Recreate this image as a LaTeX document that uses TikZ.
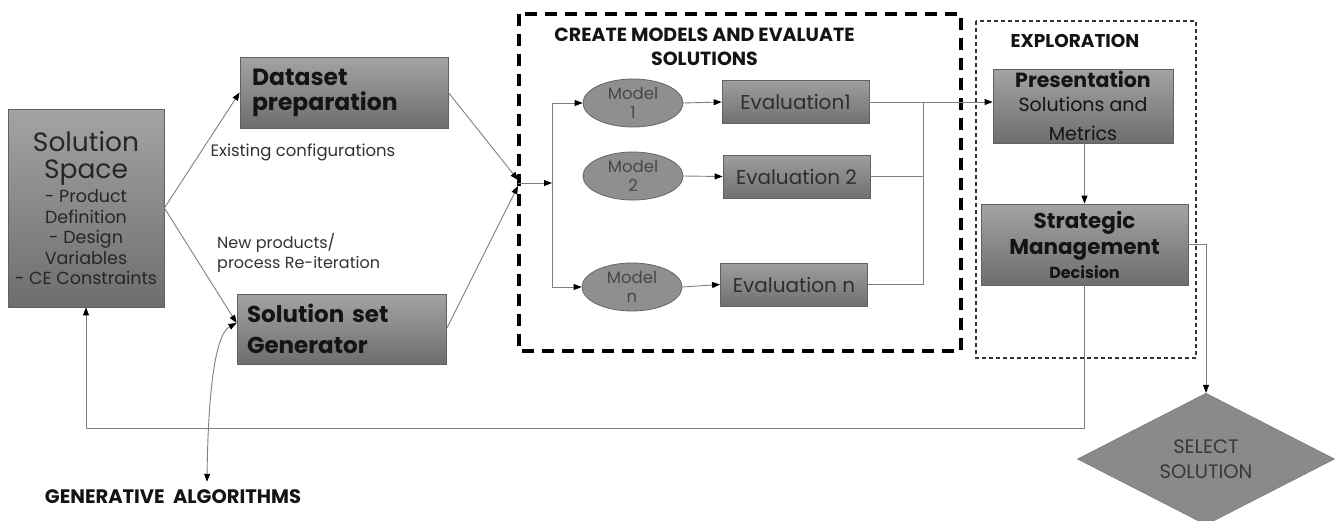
\documentclass[tikz,border=0pt]{standalone}
\usepackage{fontspec}
\setmainfont{Poppins}
\usetikzlibrary{arrows.meta,shapes.geometric,calc}
\newcommand\setfs[2]{\fontsize{#1}{#2}\selectfont}

\begin{document}
\begin{tikzpicture}[x=1pt,y=-1pt,
  gbox/.style={draw=black!62, line width=0.8pt, top color=black!36, bottom color=black!57,
               inner sep=0pt, text=black!92},
  model/.style={ellipse, draw=black!60, line width=0.8pt, fill=black!44, inner sep=0pt,
                minimum width=100, minimum height=48, text=black!72, align=center,
                font=\setfs{16.5}{19}},
  evalbox/.style={draw=black!62, line width=0.8pt, top color=black!38, bottom color=black!56,
                  inner sep=0pt, minimum width=147, minimum height=43, text=black!82,
                  font=\setfs{20}{22}},
  link/.style={draw=black!50, line width=0.9pt},
  arr/.style={link, -{Triangle[length=8pt,width=6pt,black]}},
  biarr/.style={link, {Triangle[length=8pt,width=6pt,black]}-{Triangle[length=8pt,width=6pt,black]}},
  label/.style={inner sep=0pt, text=black!80},
  heading/.style={inner sep=0pt, text=black!92, font=\setfs{19}{24}\bfseries, align=center}
]
\useasboundingbox[fill=white] (0,0) rectangle (1340,520);

% group frames
\draw[black, line width=3.5pt, dash pattern=on 12pt off 8pt] (519,14) rectangle (961,351);
\draw[black!80, line width=1.1pt, dash pattern=on 4pt off 3pt] (976,21) rectangle (1196,358);

% left column
\node[gbox, minimum width=156, minimum height=198, align=center, text=black!85,
      font=\setfs{17.5}{20.5}] (ss) at (86,208)
  {\setfs{26.5}{27}Solution\\[6.5pt]\setfs{26.5}{27}Space\\[3.5pt]- Product\\Definition\\- Design\\Variables\\- CE Constraints};

\node[gbox, minimum width=208, minimum height=71, text width=184, align=left,
      font=\setfs{23.5}{25}\bfseries] (dp) at (344,92.5) {Dataset\\preparation};
\node[gbox, minimum width=209, minimum height=70, text width=189, align=left,
      font=\setfs{23}{31}\bfseries] (sg) at (341.5,329) {Solution set\\Generator};

\node[label, font=\setfs{16.5}{20}] (exist) at (303,152) {Existing configurations};
\node[label, font=\setfs{16}{20}, align=left, anchor=west] (newp) at (217,253)
  {New products/\\process Re-iteration};
\node[heading, font=\setfs{19.5}{24}\bfseries] (ga) at (173,497) {GENERATIVE~~ALGORITHMS};

% model / evaluation block
\node[heading] (cm) at (704.5,47) {CREATE MODELS AND EVALUATE\\SOLUTIONS};
\node[model] (m1) at (633,103) {Model\\1};
\node[model] (m2) at (633,176) {Model\\2};
\node[model] (mn) at (632,287) {Model\\n};
\node[evalbox] (e1) at (795.5,102) {Evaluation1};
\node[evalbox] (e2) at (796.5,176.5) {Evaluation 2};
\node[evalbox] (en) at (794,284.5) {Evaluation n};

% exploration block
\node[heading, font=\setfs{18.5}{20}\bfseries] (ex) at (1075,41) {EXPLORATION};
\node[gbox, minimum width=180, minimum height=74, align=center,
      font=\setfs{19}{25}] (pr) at (1083,106)
  {{\setfs{20.5}{25}\bfseries Presentation}\\[-1pt]Solutions and\\[4pt]Metrics};
\node[gbox, minimum width=207, minimum height=81, align=center,
      font=\setfs{21.5}{27}\bfseries] (sm) at (1084.5,244.5)
  {Strategic\\[-1pt]Management\\[-3pt]{\setfs{16}{18}\bfseries Decision}};
\node[diamond, fill=black!46, draw=black!52, line width=0.6pt, inner sep=0pt,
      minimum width=257, minimum height=126, align=center, text=black!78,
      font=\setfs{19.5}{25}] (sel) at (1206,459) {SELECT\\SOLUTION};

% junction points
\coordinate (jn) at (518,183);
\coordinate (dv) at (552,183);
\coordinate (cl) at (923,102);

% connectors
\draw[arr] (ss.east) -- (dp.west);
\draw[arr] (ss.east) -- ([yshift=6pt]sg.west);
\draw[biarr] ([xshift=34pt,yshift=8pt]ga.north) .. controls (208,400) and (214,335) .. ([yshift=6pt]sg.west);
\draw[arr] (dp.east) -- ([yshift=3pt]jn);
\draw[arr] (sg.east) -- ([yshift=-3pt]jn);
\draw[arr] (jn) -- (dv);
\draw[link] (dv |- m1) -- (dv |- mn);
\draw[arr] (dv |- m1) -- (m1.west);
\draw[arr] (dv |- mn) -- (mn.west);
\draw[arr] (m1.east) -- (e1.west);
\draw[arr] (m2.east) -- (e2.west);
\draw[arr] (mn.east) -- (en.west);
\draw[link] (e1.east) -- (cl);
\draw[link] (e2.east) -- (cl |- e2);
\draw[link] (en.east) -- (cl |- en);
\draw[link] (cl) -- (cl |- en);
\draw[arr] (cl) -- (pr.west |- cl);
\draw[arr] (pr.south -| sm.north) -- (sm.north);
\draw[arr] (sm.east) -| (sel.north);
\draw[arr] (sm.south) -- ++(0,143) -| (ss.south);
\end{tikzpicture}
\end{document}
